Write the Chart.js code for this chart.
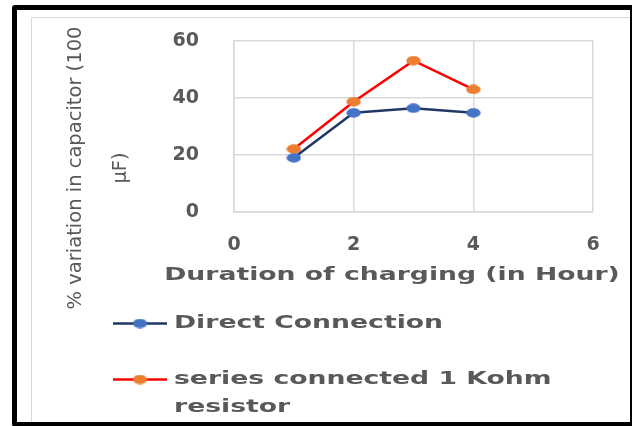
<!DOCTYPE html>
<html>
<head>
<meta charset="utf-8">
<script src="https://cdn.jsdelivr.net/npm/chart.js@4/dist/chart.umd.min.js"></script>
<style>
  html, body { margin: 0; padding: 0; background: #fff; overflow: hidden; }
  #wrap { position: relative; width: 632px; height: 426px; }
  #c { position: absolute; left: 0; top: 0; }
  .frame { position: absolute; box-sizing: border-box; pointer-events: none; }
  #outer { left: 12px; top: 5px; width: 623px; height: 422px; border: 5px solid #000; border-radius: 3px; }
  #inner { left: 31px; top: 17px; width: 610px; height: 420px; border: 1.5px solid #d9d9d9; }
</style>
</head>
<body>
<div id="wrap">
  <canvas id="c" width="632" height="426"></canvas>
  <div id="inner" class="frame"></div>
  <div id="outer" class="frame"></div>
</div>
<script>
// Charging duration (hours) and % variation of a 100 µF capacitor
const hours = [1, 2, 3, 4];
const directConnection = [19.0, 34.8, 36.4, 34.8];
const seriesResistor = [22.1, 38.7, 53.1, 43.0];
const xTickValues = [0, 2, 4, 6];
const yTickValues = [0, 20, 40, 60];
const seriesNames = ['Direct Connection', 'series connected 1 Kohm resistor'];
const xTitle = 'Duration of charging (in Hour)';
const yTitle = ['% variation in capacitor (100', 'μF)'];

const TEXT = '#595959';
const GRID = '#d9d9d9';
const WIDE = 1.48;          // horizontal widening of the bold captions
const FAMILY = '"DejaVu Sans", sans-serif';

// Slightly flattened round marker, reused for points and legend keys
function dot(fill) {
  const c = document.createElement('canvas');
  c.width = 15; c.height = 10;
  const g = c.getContext('2d');
  g.fillStyle = fill;
  g.beginPath();
  g.ellipse(7.5, 5, 7.2, 4.7, 0, 0, Math.PI * 2);
  g.fill();
  return c;
}

const toPoints = (ys) => hours.map((h, i) => ({ x: h, y: ys[i] }));

function wrapWords(ctx, text, maxW) {
  const words = text.split(' ');
  const lines = [];
  let cur = '';
  for (const w of words) {
    const test = cur ? cur + ' ' + w : w;
    if (cur && ctx.measureText(test).width * WIDE > maxW) {
      lines.push(cur);
      cur = w;
    } else {
      cur = test;
    }
  }
  if (cur) lines.push(cur);
  return lines;
}

// Axis captions and the stacked legend underneath the plot
const captions = {
  id: 'captions',
  afterDraw(chart) {
    const ctx = chart.ctx;
    const area = chart.chartArea;
    ctx.save();
    ctx.fillStyle = TEXT;
    ctx.textAlign = 'center';
    ctx.textBaseline = 'middle';

    // vertical title, second line to the right of the first
    ctx.font = '19.5px ' + FAMILY;
    const yLineX = [75.5, 121];
    yTitle.forEach((line, i) => {
      ctx.save();
      ctx.translate(yLineX[i], 168);
      ctx.rotate(-Math.PI / 2);
      ctx.fillText(line, 0, 0);
      ctx.restore();
    });

    // horizontal title
    ctx.font = 'bold 18px ' + FAMILY;
    ctx.save();
    ctx.translate(392, area.bottom + 63.5);
    ctx.scale(WIDE, 1);
    ctx.fillText(xTitle, 0, 0);
    ctx.restore();

    // legend
    const keyLeft = 113, keyRight = 167, textLeft = 174;
    const rowY = [323.5, 379.5];
    const lineGap = 27.5;
    ctx.textAlign = 'left';
    chart.data.datasets.forEach((ds, i) => {
      const y = rowY[i];
      ctx.strokeStyle = ds.borderColor;
      ctx.lineWidth = 2.5;
      ctx.beginPath();
      ctx.moveTo(keyLeft, y);
      ctx.lineTo(keyRight, y);
      ctx.stroke();
      const img = ds.pointStyle;
      ctx.drawImage(img, (keyLeft + keyRight) / 2 - img.width / 2, y - img.height / 2);
      ctx.fillStyle = TEXT;
      const lines = wrapWords(ctx, ds.label, 600 - textLeft);
      lines.forEach((ln, j) => {
        ctx.save();
        ctx.translate(textLeft, y + j * lineGap);
        ctx.scale(WIDE, 1);
        ctx.fillText(ln, 0, 0);
        ctx.restore();
      });
    });
    ctx.restore();
  }
};

const tickFont = { family: FAMILY, size: 19, weight: 'bold' };

new Chart(document.getElementById('c'), {
  type: 'line',
  data: {
    datasets: [
      {
        label: seriesNames[0],
        data: toPoints(directConnection),
        borderColor: '#1f3864',
        borderWidth: 2.5,
        pointStyle: dot('#4472c4'),
        pointRadius: 6,
        tension: 0
      },
      {
        label: seriesNames[1],
        data: toPoints(seriesResistor),
        borderColor: '#ff0000',
        borderWidth: 2.5,
        pointStyle: dot('#ed7d31'),
        pointRadius: 6,
        tension: 0
      }
    ]
  },
  options: {
    responsive: false,
    animation: false,
    devicePixelRatio: 1,
    layout: { autoPadding: false, padding: { left: 0, top: 41, right: 39, bottom: 0 } },
    plugins: { legend: { display: false }, tooltip: { enabled: false } },
    scales: {
      x: {
        type: 'linear',
        min: xTickValues[0],
        max: xTickValues[xTickValues.length - 1],
        afterBuildTicks: (s) => { s.ticks = xTickValues.map(v => ({ value: v })); },
        ticks: { font: tickFont, color: TEXT, padding: 22 },
        grid: { color: GRID, lineWidth: 1.5, drawTicks: false },
        border: { color: GRID, width: 1.5 },
        afterFit: (s) => { s.height = 214; s.paddingLeft = 0; s.paddingRight = 0; }
      },
      y: {
        type: 'linear',
        min: yTickValues[0],
        max: yTickValues[yTickValues.length - 1],
        afterBuildTicks: (s) => { s.ticks = yTickValues.map(v => ({ value: v })); },
        ticks: { font: tickFont, color: TEXT, padding: 35 },
        grid: { color: GRID, lineWidth: 1.5, drawTicks: false },
        border: { color: GRID, width: 1.5 },
        afterFit: (s) => { s.width = 234; s.paddingTop = 0; s.paddingBottom = 0; }
      }
    }
  },
  plugins: [captions]
});
</script>
</body>
</html>
